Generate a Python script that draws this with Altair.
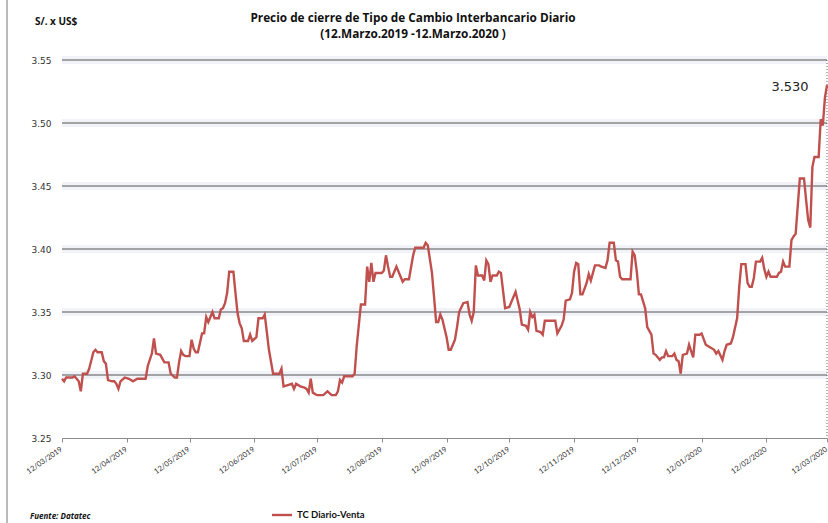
import altair as alt
import pandas as pd

# ---------------- data ----------------
start_date = "2019-03-12"

days_since_start = [
    0, 1, 2, 5, 6, 8, 9, 10, 12, 13, 15, 16, 17, 19, 20, 21, 22, 24, 25, 26,
    27, 28, 30, 32, 33, 34, 36, 40, 41, 43, 44, 45, 47, 48, 49, 51, 52, 54, 55, 56,
    57, 58, 59, 61, 62, 63, 64, 65, 67, 68, 69, 70, 72, 73, 75, 76, 77, 78, 79, 80,
    82, 83, 84, 85, 86, 87, 89, 90, 91, 93, 94, 96, 97, 98, 99, 101, 104, 105, 106, 108,
    110, 111, 112, 114, 116, 117, 118, 119, 120, 122, 123, 125, 127, 129, 131, 132, 133, 134, 135, 139,
    140, 141, 143, 145, 146, 147, 148, 149, 150, 153, 154, 155, 156, 157, 158, 160, 162, 163, 164, 166,
    168, 169, 173, 174, 175, 177, 178, 179, 180, 181, 182, 184, 185, 186, 188, 189, 190, 192, 194, 195,
    196, 197, 198, 199, 201, 202, 203, 204, 205, 206, 208, 209, 210, 212, 214, 217, 219, 220, 222, 223,
    224, 225, 226, 227, 229, 230, 231, 236, 237, 239, 240, 241, 243, 244, 245, 246, 247, 248, 249, 251,
    252, 253, 255, 257, 258, 260, 261, 262, 264, 265, 266, 267, 268, 272, 273, 274, 275, 276, 277, 279,
    280, 282, 283, 284, 286, 287, 288, 289, 290, 292, 293, 294, 295, 296, 297, 299, 300, 302, 303, 305,
    306, 308, 309, 311, 312, 313, 314, 316, 317, 318, 320, 321, 323, 324, 325, 327, 328, 329, 330, 331,
    332, 334, 335, 336, 337, 338, 339, 342, 343, 344, 345, 346, 348, 349, 350, 351, 352, 353, 355, 356,
    357, 358, 359, 360, 362, 363, 364, 365, 366,
]

tc_venta = [
    3.297, 3.295, 3.298, 3.298, 3.299, 3.295, 3.287, 3.301, 3.301, 3.305, 3.318, 3.320, 3.318, 3.318, 3.311, 3.309, 3.296, 3.295, 3.295, 3.293,
    3.289, 3.295, 3.298, 3.297, 3.296, 3.295, 3.297, 3.297, 3.307, 3.317, 3.329, 3.317, 3.316, 3.313, 3.310, 3.310, 3.301, 3.298, 3.298, 3.310,
    3.319, 3.316, 3.315, 3.315, 3.328, 3.321, 3.318, 3.318, 3.333, 3.333, 3.346, 3.342, 3.350, 3.345, 3.345, 3.352, 3.353, 3.357, 3.365, 3.382,
    3.382, 3.365, 3.349, 3.341, 3.337, 3.327, 3.327, 3.332, 3.327, 3.330, 3.345, 3.345, 3.348, 3.334, 3.320, 3.301, 3.301, 3.305, 3.291, 3.292,
    3.293, 3.289, 3.293, 3.291, 3.290, 3.289, 3.286, 3.297, 3.286, 3.284, 3.284, 3.284, 3.287, 3.284, 3.284, 3.287, 3.296, 3.294, 3.299, 3.299,
    3.301, 3.323, 3.356, 3.356, 3.386, 3.374, 3.389, 3.374, 3.381, 3.381, 3.383, 3.395, 3.386, 3.378, 3.378, 3.386, 3.378, 3.374, 3.376, 3.376,
    3.395, 3.401, 3.401, 3.405, 3.403, 3.381, 3.362, 3.342, 3.342, 3.348, 3.344, 3.330, 3.320, 3.320, 3.328, 3.338, 3.350, 3.357, 3.358, 3.348,
    3.343, 3.350, 3.387, 3.379, 3.379, 3.375, 3.391, 3.388, 3.374, 3.379, 3.379, 3.382, 3.381, 3.353, 3.354, 3.366, 3.352, 3.340, 3.339, 3.336,
    3.350, 3.346, 3.348, 3.335, 3.334, 3.332, 3.343, 3.343, 3.333, 3.339, 3.344, 3.359, 3.360, 3.365, 3.382, 3.389, 3.388, 3.364, 3.364, 3.373,
    3.380, 3.375, 3.387, 3.387, 3.386, 3.385, 3.391, 3.405, 3.405, 3.391, 3.390, 3.378, 3.376, 3.376, 3.398, 3.395, 3.382, 3.364, 3.364, 3.353,
    3.338, 3.332, 3.317, 3.316, 3.312, 3.314, 3.314, 3.319, 3.315, 3.315, 3.317, 3.312, 3.311, 3.301, 3.316, 3.317, 3.324, 3.314, 3.332, 3.332,
    3.333, 3.324, 3.323, 3.321, 3.320, 3.317, 3.319, 3.312, 3.319, 3.324, 3.325, 3.330, 3.345, 3.370, 3.388, 3.388, 3.373, 3.370, 3.370, 3.377,
    3.390, 3.390, 3.393, 3.384, 3.378, 3.382, 3.378, 3.378, 3.381, 3.382, 3.390, 3.386, 3.386, 3.407, 3.410, 3.412, 3.434, 3.456, 3.456, 3.439,
    3.423, 3.417, 3.465, 3.473, 3.473, 3.503, 3.498, 3.520, 3.530,
]

y_ticks = [3.25, 3.30, 3.35, 3.40, 3.45, 3.50, 3.55]
grid_levels = [3.30, 3.35, 3.40, 3.45, 3.50, 3.55]
tick_months = [(2019, m) for m in range(3, 13)] + [(2020, m) for m in range(1, 4)]

title_line1 = "Precio de cierre de Tipo de Cambio Interbancario  Diario"
title_line2 = "(12.Marzo.2019 -12.Marzo.2020 )"
y_unit = "S/. x US$"
source_text = "Fuente: Datatec"
legend_text = "TC Diario-Venta"

# ---------------- build tables ----------------
df = pd.DataFrame({
    "fecha": pd.Timestamp(start_date) + pd.to_timedelta(days_since_start, unit="D"),
    "tc": tc_venta,
    "orden": list(range(len(tc_venta))),
})
grid_df = pd.DataFrame({"nivel": grid_levels})
one = pd.DataFrame({"k": [0]})

RED = "#C0504D"
W, H = 765, 378

x_scale = alt.Scale(
    domain=[alt.DateTime(year=2019, month=3, date=12), alt.DateTime(year=2020, month=3, date=12)],
    nice=False,
)
y_scale = alt.Scale(domain=[3.25, 3.55], nice=False, zero=False)

x_enc = alt.X(
    "fecha:T",
    scale=x_scale,
    axis=alt.Axis(
        values=[alt.DateTime(year=yy, month=mm, date=12) for yy, mm in tick_months],
        format="%d/%m/%Y",
        labelAngle=325,
        labelAlign="right",
        labelBaseline="top",
        labelFont="Lato",
        labelFontSize=7.5,
        labelColor="#333333",
        labelPadding=3,
        labelOffset=-3,
        labelOverlap=False,
        labelFlush=False,
        domainColor="#8c8c8c",
        domainWidth=1.2,
        tickColor="#8c8c8c",
        tickSize=4,
        grid=False,
        title=None,
    ),
)
y_enc = alt.Y(
    "tc:Q",
    scale=y_scale,
    axis=alt.Axis(
        values=y_ticks,
        format=".2f",
        grid=False,
        domain=False,
        ticks=False,
        labelFont="DejaVu Sans",
        labelFontSize=9,
        labelColor="#333333",
        labelPadding=11,
        title=None,
    ),
)

glow = alt.Chart(grid_df).mark_rule(color="#f1f3f9", strokeWidth=8).encode(
    y=alt.Y("nivel:Q", scale=y_scale)
)
grid = alt.Chart(grid_df).mark_rule(color="#888888", strokeWidth=1.4).encode(
    y=alt.Y("nivel:Q", scale=y_scale)
)
right_edge = alt.Chart(one).mark_rule(color="#666666", strokeWidth=1, strokeDash=[1, 2]).encode(
    x=alt.value(W), y=alt.value(0), y2=alt.value(H)
)
left_border = alt.Chart(one).mark_rule(color="#777777", strokeWidth=1).encode(
    x=alt.value(-55), y=alt.value(-60), y2=alt.value(463)
)

line = alt.Chart(df).mark_line(color=RED, strokeWidth=2.4).encode(
    x=x_enc, y=y_enc, order="orden:Q"
)

last_label = alt.Chart(df.tail(1)).mark_text(
    font="DejaVu Sans", fontSize=13, color="#222222", dx=-37, dy=2, align="center", baseline="middle"
).encode(
    x=alt.X("fecha:T", scale=x_scale),
    y=alt.Y("tc:Q", scale=y_scale),
    text=alt.Text("tc:Q", format=".3f"),
)

def label(txt, x, y, size, bold=True, italic=False, align="left", font="Open Sans"):
    return alt.Chart(one).mark_text(
        text=txt, font=font, fontSize=size,
        fontWeight="bold" if bold else "normal",
        fontStyle="italic" if italic else "normal",
        color="#111111", align=align, baseline="middle",
    ).encode(x=alt.value(x), y=alt.value(y))

t1 = label(title_line1, 351, -42, 11.8, align="center")
t2 = label(title_line2, 351, -26, 11.8, align="center")
unit = label(y_unit, -27, -38, 10)
src = label(source_text, -32, 457, 8, italic=True)
leg_txt = label(legend_text, 235, 455, 9.5, font="Lato")
leg_line = alt.Chart(one).mark_rule(color=RED, strokeWidth=2.4).encode(
    x=alt.value(210), x2=alt.value(230), y=alt.value(455)
)

chart = alt.layer(
    glow, grid, right_edge, left_border, line, last_label,
    t1, t2, unit, src, leg_line, leg_txt,
).properties(
    width=W, height=H,
    autosize=alt.AutoSizeParams(type="none"),
    padding={"left": 62, "top": 60, "right": 1, "bottom": 85},
    background="white",
).configure_view(stroke=None)

chart.save("out.html", embed_options={"renderer": "svg", "actions": False})
